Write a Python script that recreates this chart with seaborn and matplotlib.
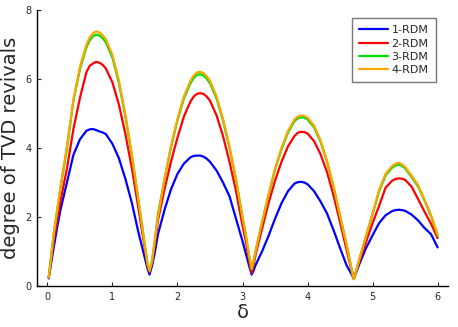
import numpy as np
import pandas as pd
import matplotlib
matplotlib.use("Agg")
import matplotlib.pyplot as plt
import seaborn as sns

delta = [0.02, 0.06, 0.1, 0.15, 0.2, 0.3, 0.4, 0.5, 0.6, 0.65, 0.7, 0.75, 0.8, 0.85, 0.9, 1.0, 1.1, 1.2, 1.3, 1.4, 1.5, 1.54, 1.57, 1.61, 1.65,
         1.7, 1.8, 1.9, 2.0, 2.1, 2.2, 2.25, 2.3, 2.35, 2.4, 2.45, 2.5, 2.6, 2.7, 2.8, 2.9, 3.0, 3.05, 3.1, 3.14, 3.17,
         3.2, 3.3, 3.4, 3.5, 3.6, 3.7, 3.8, 3.85, 3.9, 3.95, 4.0, 4.1, 4.2, 4.3, 4.4, 4.5, 4.6, 4.66, 4.71, 4.75,
         4.8, 4.9, 5.0, 5.1, 5.2, 5.3, 5.35, 5.4, 5.45, 5.5, 5.6, 5.7, 5.8, 5.9, 6.0]

rdm1 = [0.22, 0.7, 1.15, 1.7, 2.2, 3.0, 3.8, 4.25, 4.5, 4.54, 4.55, 4.52, 4.48, 4.45, 4.4, 4.12, 3.7, 3.1, 2.4, 1.55, 0.8, 0.5, 0.33, 0.6, 0.95,
        1.5, 2.2, 2.8, 3.25, 3.55, 3.73, 3.77, 3.78, 3.78, 3.75, 3.69, 3.6, 3.35, 3.0, 2.6, 1.95, 1.3, 0.95, 0.6, 0.33, 0.45,
        0.6, 1.0, 1.45, 1.95, 2.4, 2.75, 2.97, 3.01, 3.02, 3.0, 2.95, 2.75, 2.45, 2.1, 1.62, 1.1, 0.6, 0.4, 0.22, 0.4,
        0.65, 1.1, 1.47, 1.82, 2.05, 2.17, 2.2, 2.21, 2.2, 2.18, 2.07, 1.9, 1.68, 1.5, 1.12]

rdm2 = [0.25, 0.8, 1.35, 1.9, 2.45, 3.4, 4.55, 5.45, 6.2, 6.38, 6.45, 6.5, 6.47, 6.41, 6.3, 5.9, 5.25, 4.4, 3.4, 2.25, 1.05, 0.6, 0.4, 0.7, 1.15,
        1.9, 2.8, 3.6, 4.3, 4.92, 5.35, 5.49, 5.57, 5.59, 5.57, 5.49, 5.37, 4.95, 4.35, 3.6, 2.75, 1.75, 1.3, 0.75, 0.38, 0.6,
        0.9, 1.65, 2.4, 3.05, 3.6, 4.05, 4.35, 4.44, 4.47, 4.46, 4.42, 4.2, 3.82, 3.3, 2.62, 1.85, 1.05, 0.58, 0.2, 0.45,
        0.72, 1.28, 1.82, 2.32, 2.85, 3.05, 3.1, 3.12, 3.11, 3.08, 2.88, 2.52, 2.15, 1.8, 1.39]

rdm3 = [0.25, 0.9, 1.55, 2.18, 2.83, 3.97, 5.38, 6.28, 6.92, 7.12, 7.24, 7.29, 7.26, 7.18, 7.06, 6.62, 5.88, 4.9, 3.76, 2.48, 1.15, 0.63, 0.43, 0.73, 1.27,
        2.08, 3.08, 4.02, 4.8, 5.44, 5.88, 6.03, 6.12, 6.14, 6.1, 6.01, 5.88, 5.44, 4.8, 4.0, 3.07, 1.98, 1.48, 0.88, 0.48, 0.7,
        1.0, 1.84, 2.63, 3.37, 3.96, 4.45, 4.78, 4.86, 4.89, 4.88, 4.83, 4.6, 4.18, 3.6, 2.87, 2.03, 1.2, 0.65, 0.2, 0.45,
        0.8, 1.44, 2.08, 2.74, 3.2, 3.43, 3.49, 3.52, 3.49, 3.41, 3.16, 2.88, 2.47, 2.02, 1.46]

rdm4 = [0.25, 0.9, 1.55, 2.2, 2.85, 4.05, 5.4, 6.35, 7.0, 7.2, 7.33, 7.38, 7.35, 7.27, 7.15, 6.7, 5.95, 4.95, 3.8, 2.5, 1.15, 0.65, 0.45, 0.75, 1.3,
        2.0, 3.1, 4.05, 4.85, 5.5, 5.95, 6.1, 6.19, 6.21, 6.17, 6.08, 5.95, 5.5, 4.85, 4.05, 3.1, 2.0, 1.5, 0.9, 0.5, 0.72,
        1.0, 1.85, 2.65, 3.4, 4.0, 4.5, 4.83, 4.91, 4.94, 4.93, 4.88, 4.65, 4.22, 3.63, 2.89, 2.04, 1.2, 0.65, 0.2, 0.45,
        0.8, 1.45, 2.1, 2.78, 3.25, 3.48, 3.54, 3.57, 3.53, 3.45, 3.2, 2.92, 2.5, 2.05, 1.49]

labels = ["1-RDM", "2-RDM", "3-RDM", "4-RDM"]
colors = ["#0000ff", "#ff0000", "#00e000", "#ffa500"]

df = pd.concat([
    pd.DataFrame({"delta": delta, "value": vals, "series": lab})
    for lab, vals in zip(labels, [rdm1, rdm2, rdm3, rdm4])
], ignore_index=True)

sns.set_style("ticks")
plt.rcParams['font.family'] = ['DejaVu Sans']

fig = plt.figure(figsize=(4.58, 3.27), dpi=100)
ax = fig.add_axes([37/458, 41/327, 411/458, 276/327])

sns.lineplot(data=df, x="delta", y="value", hue="series",
             palette=dict(zip(labels, colors)), linewidth=1.6, ax=ax, sort=False)
for line in ax.get_lines():
    line.set_solid_joinstyle("round")

ax.set_xlim(-0.16, 6.16)
ax.set_ylim(0, 8)
ax.set_xticks(range(0, 7))
ax.set_yticks([0, 2, 4, 6, 8])
ax.tick_params(direction="in", length=3, width=0.8, labelsize=7, pad=4)
for s in ["top", "right"]:
    ax.spines[s].set_visible(False)
for s in ["left", "bottom"]:
    ax.spines[s].set_linewidth(1.0)
    ax.spines[s].set_color("black")

ax.set_xlabel("δ", fontsize=14, labelpad=1)
ax.set_ylabel("degree of TVD revivals", fontsize=14, labelpad=4)

leg = ax.legend(loc="upper right", bbox_to_anchor=(0.97, 0.971), borderaxespad=0,
                fontsize=8, handlelength=2.6, labelspacing=0.3, fancybox=False,
                frameon=True, title=None, handletextpad=0.3, borderpad=0.65)
leg.get_frame().set_edgecolor("#555555")
leg.get_frame().set_linewidth(1.0)
for line in leg.get_lines():
    line.set_linewidth(1.6)

fig.savefig("out.png", dpi=100)
